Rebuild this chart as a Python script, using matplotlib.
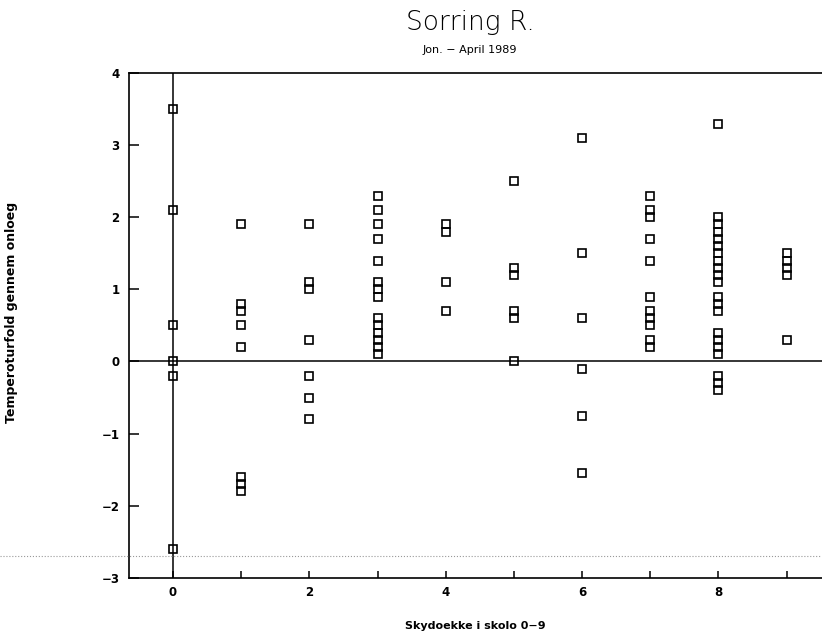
import matplotlib.pyplot as plt
from matplotlib.lines import Line2D

# skydaekke (0-9) og temperaturfald, aflaest fra figuren
x0 = [0, 0, 0, 0, 0, 0]
y0 = [3.5, 2.1, 0.5, 0.0, -0.2, -2.6]
x1 = [1] * 8
y1 = [1.9, 0.8, 0.7, 0.5, 0.2, -1.6, -1.7, -1.8]
x2 = [2] * 7
y2 = [1.9, 1.1, 1.0, 0.3, -0.2, -0.5, -0.8]
x3 = [3] * 14
y3 = [2.3, 2.1, 1.9, 1.7, 1.4, 1.1, 1.0, 0.9, 0.6, 0.5, 0.4, 0.3, 0.2, 0.1]
x4 = [4] * 4
y4 = [1.9, 1.8, 1.1, 0.7]
x5 = [5] * 6
y5 = [2.5, 1.3, 1.2, 0.7, 0.6, 0.0]
x6 = [6] * 6
y6 = [3.1, 1.5, 0.6, -0.1, -0.75, -1.55]
x7 = [7] * 11
y7 = [2.3, 2.1, 2.0, 1.7, 1.4, 0.9, 0.7, 0.6, 0.5, 0.3, 0.2]
x8 = [8] * 21
y8 = [3.3, 2.0, 1.9, 1.8, 1.7, 1.6, 1.5, 1.4, 1.3, 1.2, 1.1,
      0.9, 0.8, 0.7, 0.4, 0.3, 0.2, 0.1, -0.2, -0.3, -0.4]
x9 = [9] * 5
y9 = [1.5, 1.4, 1.3, 1.2, 0.3]

xs = x0 + x1 + x2 + x3 + x4 + x5 + x6 + x7 + x8 + x9
ys = y0 + y1 + y2 + y3 + y4 + y5 + y6 + y7 + y8 + y9

fig = plt.figure(figsize=(8.22, 6.35), dpi=100)
ax = fig.add_axes([0.157, 0.09, 0.843, 0.795])

ax.plot(xs, ys, linestyle='none', marker='s', markersize=5.5,
        markerfacecolor='none', markeredgecolor='black', markeredgewidth=1.2)

ax.axhline(0, color='black', linewidth=1.1)
ax.axvline(0, color='black', linewidth=1.1)

ax.set_xlim(-0.645, 9.52)
ax.set_ylim(-3, 4)
ax.set_xticks(range(10))
ax.set_xticklabels(['0', '', '2', '', '4', '', '6', '', '8', ''])
ax.set_yticks(range(-3, 5))
ax.set_yticklabels(['\u22123', '\u22122', '\u22121', '0', '1', '2', '3', '4'])
ax.tick_params(axis='x', direction='in', length=5, width=1.1,
               labelsize=8.5, pad=6)
ax.tick_params(axis='y', direction='in', length=7, width=1.1,
               labelsize=8.5, pad=7)
for lab in ax.get_xticklabels() + ax.get_yticklabels():
    lab.set_fontweight('bold')

ax.spines['right'].set_visible(False)
for s in ['left', 'top', 'bottom']:
    ax.spines[s].set_linewidth(1.2)

ax.set_xlabel('Skydoekke i skolo 0\u22129', fontsize=8, fontweight='bold', labelpad=16)
ax.set_ylabel('Temperoturfold gennem onloeg', fontsize=9, fontweight='bold')
ax.yaxis.set_label_coords(-0.16, 0.526)

fig.text(0.572, 0.965, 'Sorring R.', ha='center', va='center',
         fontsize=19, fontweight='light')
fig.text(0.572, 0.921, 'Jon. \u2212 April 1989', ha='center', va='center',
         fontsize=8)

# svag prikket scanningslinje
fig.add_artist(Line2D([0, 1], [0.1244, 0.1244], transform=fig.transFigure,
                      color='0.6', linewidth=0.8, linestyle=':'))

fig.savefig('out.png', dpi=100)
